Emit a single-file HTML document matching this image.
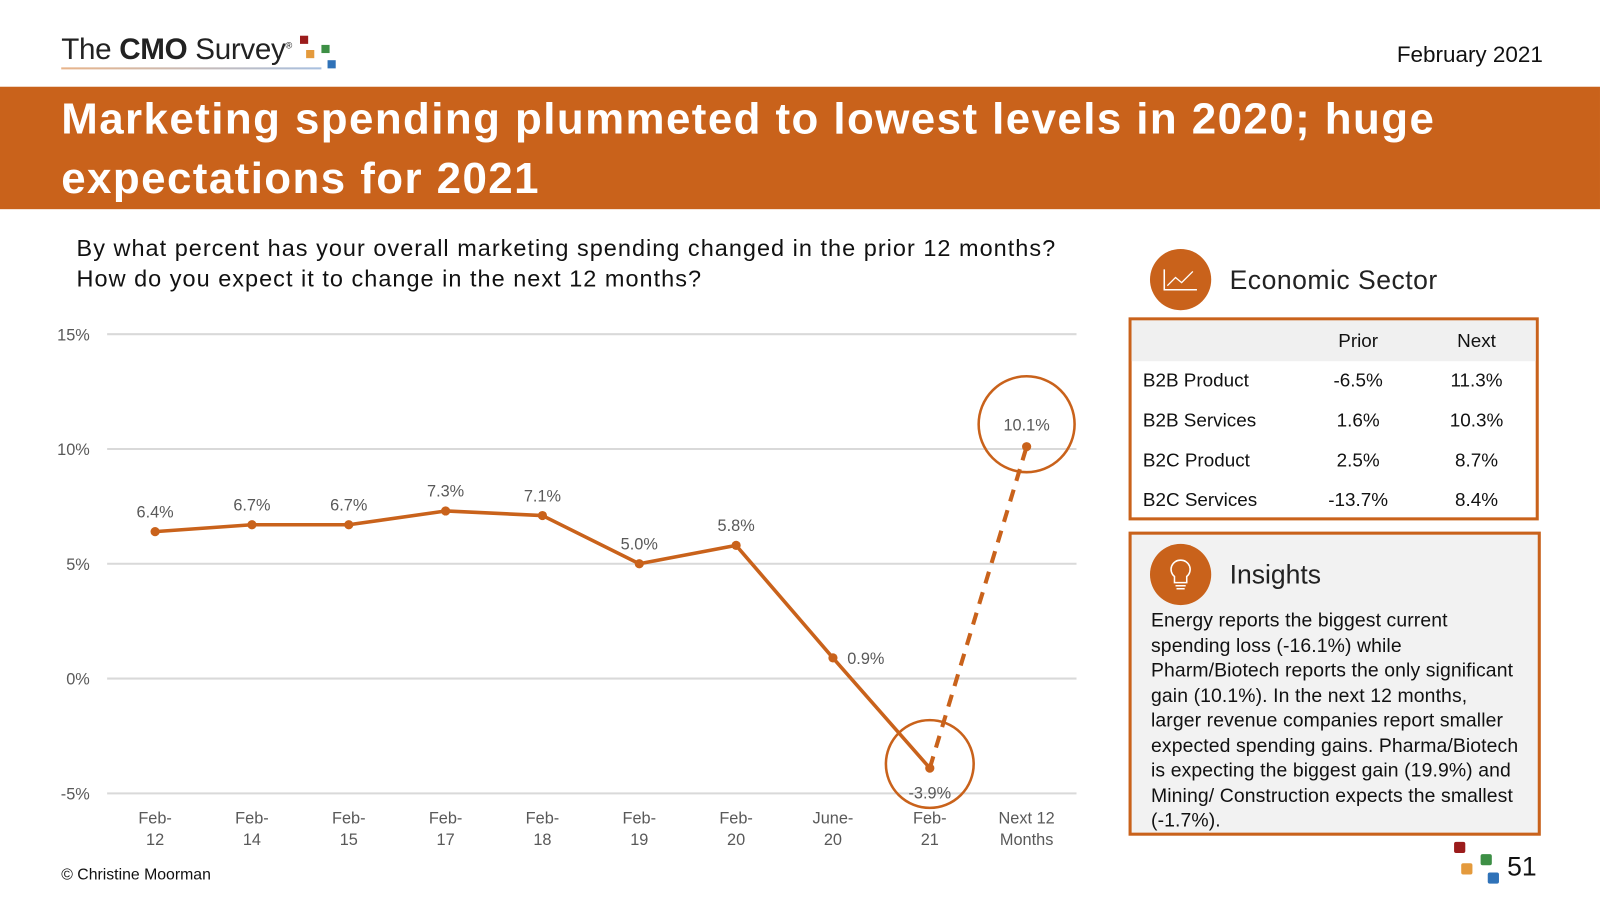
<!DOCTYPE html>
<html><head><meta charset="utf-8">
<style>
html,body{margin:0;padding:0;width:1600px;height:900px;overflow:hidden;background:#fff;font-family:"Liberation Sans",sans-serif;}
#wrap{position:absolute;left:0;top:0;width:1568px;height:882px;transform:scale(1.0204);transform-origin:0 0;}
.abs{position:absolute;}
</style></head><body>
<div id="wrap">
  <div class="abs" style="left:60px;top:33px;font-size:29px;color:#222;letter-spacing:-0.3px;">The <b>CMO</b> Survey<sup style="font-size:9px">®</sup></div>
  <div class="abs" style="left:0;top:0;">
    <div class="abs" style="left:294px;top:35px;width:8px;height:8px;background:#9b1c1c"></div>
    <div class="abs" style="left:300px;top:49px;width:8px;height:8px;background:#e49a3c"></div>
    <div class="abs" style="left:315px;top:44px;width:8px;height:8px;background:#3d8f45"></div>
    <div class="abs" style="left:321px;top:59px;width:8px;height:8px;background:#2f72b8"></div>
  </div>
  <div class="abs" style="left:60px;top:66px;width:255px;height:2px;background:linear-gradient(90deg,#e8b48a,#a8c0e0)"></div>
  <div class="abs" style="right:56px;top:41px;font-size:22px;color:#111;">February 2021</div>
  <div class="abs" style="left:0;top:85px;width:1568px;height:120px;background:#C9621B;"></div>
  <div class="abs" style="left:60px;top:88px;width:1450px;color:#fff;font-size:43px;font-weight:bold;line-height:58px;letter-spacing:1.4px;">Marketing spending plummeted to lowest levels in 2020; huge expectations for 2021</div>
  <div class="abs" style="left:75px;top:228px;font-size:23px;line-height:30px;color:#111;letter-spacing:1px;">By what percent has your overall marketing spending changed in the prior 12 months?<br>How do you expect it to change in the next 12 months?</div>

  <svg class="abs" id="chart" style="left:0;top:0" width="1100" height="882"></svg>

  <div class="abs" style="left:1127px;top:244px;width:60px;height:60px;border-radius:50%;background:#C9621B;">
    <svg width="60" height="60"><path d="M14 20 V40 H46" stroke="#fff" stroke-width="1.5" fill="none"/><path d="M17 36 L25 28 L31 33 L42 22" stroke="#fff" stroke-width="1.3" fill="none"/></svg>
  </div>
  <div class="abs" style="left:1205px;top:259px;font-size:26px;color:#222;letter-spacing:0.5px;">Economic Sector</div>
  <div class="abs" style="left:1106px;top:311px;width:396px;height:193px;border:3px solid #C9621B;font-size:18.5px;color:#111;">
    <div style="position:absolute;left:0;top:0;width:100%;height:40px;background:#f0f0f0"></div>
    <div class="abs" style="left:172px;top:9px;width:100px;text-align:center;">Prior</div>
    <div class="abs" style="left:288px;top:9px;width:100px;text-align:center;">Next</div>
    <div class="abs" style="left:11px;top:48px;width:380px;"><span>B2B Product</span><span class="abs" style="left:161px;width:100px;text-align:center">-6.5%</span><span class="abs" style="left:277px;width:100px;text-align:center">11.3%</span></div>
    <div class="abs" style="left:11px;top:87px;width:380px;"><span>B2B Services</span><span class="abs" style="left:161px;width:100px;text-align:center">1.6%</span><span class="abs" style="left:277px;width:100px;text-align:center">10.3%</span></div>
    <div class="abs" style="left:11px;top:126px;width:380px;"><span>B2C Product</span><span class="abs" style="left:161px;width:100px;text-align:center">2.5%</span><span class="abs" style="left:277px;width:100px;text-align:center">8.7%</span></div>
    <div class="abs" style="left:11px;top:165px;width:380px;"><span>B2C Services</span><span class="abs" style="left:161px;width:100px;text-align:center">-13.7%</span><span class="abs" style="left:277px;width:100px;text-align:center">8.4%</span></div>
  </div>
  <div class="abs" style="left:1106px;top:521px;width:398px;height:292px;border:3px solid #C9621B;background:#f2f2f2;"></div>
  <div class="abs" style="left:1127px;top:533px;width:60px;height:60px;border-radius:50%;background:#C9621B;">
    <svg width="60" height="60"><path d="M30 16 a9 9 0 0 1 6 16 v6 h-12 v-6 a9 9 0 0 1 6 -16z" stroke="#fff" stroke-width="1.5" fill="none"/><path d="M25 41h10M26 44h8" stroke="#fff" stroke-width="1.5"/></svg>
  </div>
  <div class="abs" style="left:1205px;top:548px;font-size:26px;color:#222;">Insights</div>
  <div class="abs" style="left:1128px;top:597px;width:364px;font-size:19px;line-height:24.5px;color:#111;letter-spacing:0.1px;">Energy reports the biggest current spending loss (-16.1%) while Pharm/Biotech reports the only significant gain (10.1%). In the next 12 months, larger revenue companies report smaller expected spending gains. Pharma/Biotech is expecting the biggest gain (19.9%) and Mining/ Construction expects the smallest (-1.7%).</div>
  <div class="abs" style="left:60px;top:849px;font-size:15.5px;color:#111;">© Christine Moorman</div>
  <div class="abs" style="left:0;top:0">
    <div class="abs" style="left:1425px;top:825px;width:11px;height:11px;background:#9b1c1c;border-radius:2px"></div>
    <div class="abs" style="left:1432px;top:846px;width:11px;height:11px;background:#e49a3c;border-radius:2px"></div>
    <div class="abs" style="left:1451px;top:837px;width:11px;height:11px;background:#3d8f45;border-radius:2px"></div>
    <div class="abs" style="left:1458px;top:855px;width:11px;height:11px;background:#2f72b8;border-radius:2px"></div>
  </div>
  <div class="abs" style="left:1477px;top:834px;font-size:26px;color:#111;">51</div>
</div>
<script>
const categories = ["Feb-\n12","Feb-\n14","Feb-\n15","Feb-\n17","Feb-\n18","Feb-\n19","Feb-\n20","June-\n20","Feb-\n21","Next 12\nMonths"];
const values = [6.4,6.7,6.7,7.3,7.1,5.0,5.8,0.9,-3.9,10.1];
const valueLabels = ["6.4%","6.7%","6.7%","7.3%","7.1%","5.0%","5.8%","0.9%","-3.9%","10.1%"];
const yTicks = [15,10,5,0,-5];
const yTickLabels = ["15%","10%","5%","0%","-5%"];

const svg = document.getElementById('chart');
const NS = 'http://www.w3.org/2000/svg';
const C = '#C9621B';
const x = i => 152 + i * 94.9;
const y = v => 665 - v * 22.5;
function mk(tag, attrs){const e=document.createElementNS(NS,tag);for(const k in attrs)e.setAttribute(k,attrs[k]);svg.appendChild(e);return e;}

yTicks.forEach((t,i)=>{
  const g = mk('line',{x1:105,x2:1055,y1:y(t),y2:y(t),stroke:'#d9d9d9','stroke-width':2});
  
  
  const lb = mk('text',{x:88,y:y(t)+6,'text-anchor':'end','font-size':16,fill:'#595959','font-family':'Liberation Sans'});
  lb.textContent = yTickLabels[i];
  
  
});
categories.forEach((c,i)=>{
  const parts=c.split('\n');
  parts.forEach((p,j)=>{
    const t = mk('text',{x:x(i),y:807+j*21,'text-anchor':'middle','font-size':16,fill:'#595959','font-family':'Liberation Sans'});
    t.textContent=p;
    
    
  });
});
const n = values.length;
let d='';
for(let i=0;i<n-1;i++) d += (i?'L':'M') + x(i) + ' ' + y(values[i]);
const line = mk('path',{d:d,stroke:C,'stroke-width':3.5,fill:'none','stroke-linejoin':'round'});


const dash = mk('line',{x1:x(n-2),y1:y(values[n-2]),x2:x(n-1),y2:y(values[n-1]),stroke:C,'stroke-width':4,'stroke-dasharray':'12 9'});


values.forEach((v,i)=>{
  const p = mk('circle',{cx:x(i),cy:y(v),r:4.5,fill:C});
  
  
  let lx=x(i), ly=y(v)-14, anchor='middle';
  if(i===7){lx=x(i)+14; ly=y(v)+6; anchor='start';}
  if(i===8){ly=y(v)+30;}
  if(i===9){ly=y(v)-16;}
  const t = mk('text',{x:lx,y:ly,'text-anchor':anchor,'font-size':16,fill:'#595959','font-family':'Liberation Sans'});
  t.textContent = valueLabels[i];
  
  
});
[[n-2,0],[n-1,-22]].forEach(([i,dy])=>{
  const c = mk('circle',{cx:x(i),cy:y(values[i])+dy+(i===n-2?-4:0),r:i===n-2?43:47,fill:'none',stroke:C,'stroke-width':2.5});
  
  
});
</script>
</body></html>
